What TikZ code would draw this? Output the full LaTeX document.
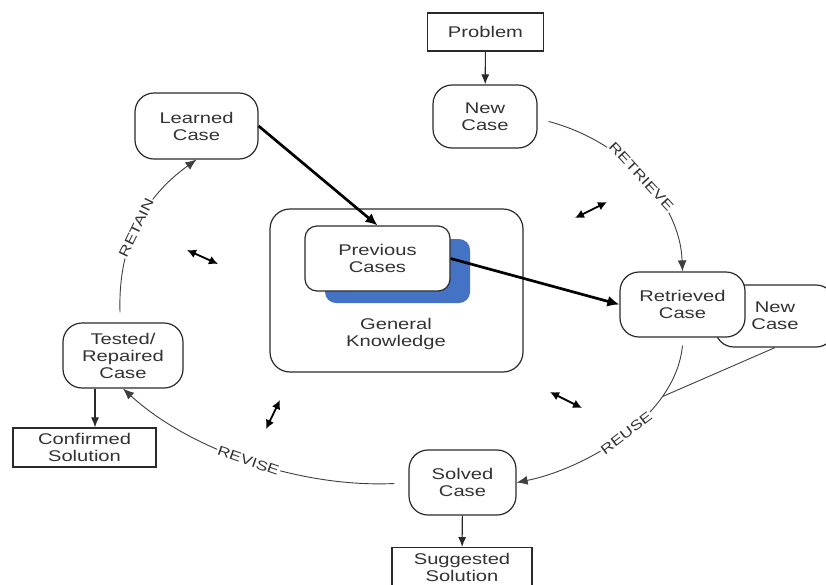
\documentclass[tikz,border=0pt]{standalone}
\usepackage{fontspec}
\setmainfont{Liberation Sans}[FakeStretch=1.3]
\usetikzlibrary{arrows.meta}

\definecolor{ink}{HTML}{333333}
\definecolor{edge}{HTML}{2A2A2A}
\definecolor{shade}{HTML}{4472C4}

\tikzset{
  box/.style={draw=edge, line width=1.2pt, fill=white, inner sep=0pt,
    align=center, text=ink, font=\fontsize{15.5}{17}\selectfont},
  rbox/.style={box, rounded corners=19pt},
  flow/.style={draw=edge, line width=1.1pt, -{Latex[length=10pt,width=8pt]}},
  phase/.style={draw=edge!90, line width=0.9pt, -{Latex[length=11pt,width=9pt]}},
  lbl/.style={sloped, fill=white, inner sep=1pt, text=ink,
    font=\fontsize{13.5}{13.5}\selectfont},
  strong/.style={draw=black, line width=2.7pt, -{Latex[length=12pt,width=11pt]}},
  swap/.style={draw=black, line width=1.8pt,
    {Latex[length=9pt,width=9pt]}-{Latex[length=9pt,width=9pt]}}
}

\begin{document}
\begin{tikzpicture}[x=1pt, y=-1pt]
\useasboundingbox (0,0) rectangle (826,584);
\clip (0,0) rectangle (826,584);
\fill[white] (0,0) rectangle (826,584);

% central knowledge store
\node[rbox, rounded corners=20pt, minimum width=253pt, minimum height=163pt] (gk) at (396.5,290.5) {};
\node[draw=none, fill=shade, rounded corners=11pt, minimum width=145pt, minimum height=64pt, inner sep=0pt] (shadow) at (397.5,271) {};
\node[rbox, rounded corners=12pt, minimum width=145pt, minimum height=65pt] (prev) at (377.5,258.5) {Previous\\Cases};
\node[text=ink, align=center, font=\fontsize{15.5}{17}\selectfont] (gktext) at (396,334) {General\\Knowledge};

% cycle states
\node[box, minimum width=116pt, minimum height=38pt] (problem) at (485.5,32) {Problem};
\node[rbox, minimum width=104pt, minimum height=63pt] (newcase) at (485,116.5) {New\\Case};
\node[rbox, minimum width=120pt, minimum height=62pt] (newcase2) at (775,316) {New\\Case};
\node[rbox, minimum width=125pt, minimum height=65pt] (retrieved) at (682.5,304.5) {Retrieved\\Case};
\node[rbox, minimum width=107pt, minimum height=65pt] (solved) at (462.5,482.5) {Solved\\Case};
\node[box, minimum width=140pt, minimum height=40pt, anchor=north] (suggested) at (462,547) {Suggested\\Solution};
\node[rbox, minimum width=120pt, minimum height=65pt] (tested) at (123,355.5) {Tested/\\Repaired\\Case};
\node[box, minimum width=143pt, minimum height=39pt] (confirmed) at (84.5,447.5) {Confirmed\\Solution};
\node[rbox, minimum width=123pt, minimum height=66pt] (learned) at (196.5,126) {Learned\\Case};

% straight flows
\draw[flow] (problem) -- (newcase);
\draw[flow] ([xshift=-28pt]tested.south) -- ([xshift=-28pt]tested.south |- confirmed.north);
\draw[flow] (solved) -- (suggested);

% the four phases
\draw[phase] ([shift={(11,5)}]newcase.east) .. controls (620,140) and (680,200) .. (retrieved.north)
  node[lbl, pos=0.5] {RETRIEVE};
\draw[phase] ([shift={(0,8)}]retrieved.south) .. controls (675,420) and (580,470) .. (solved.east)
  coordinate[pos=0.25] (merge)
  node[lbl, pos=0.47] {REUSE};
\draw[edge!90, line width=0.9pt] (merge) -- (newcase2.south);
\draw[phase] ([shift={(-14,1)}]solved.west) .. controls (300,488) and (190,450) .. (tested.south)
  node[lbl, pos=0.5] {REVISE};
\draw[phase] ([shift={(-3,-10)}]tested.north) .. controls (118,250) and (140,200) .. (learned.south)
  node[lbl, pos=0.5] {RETAIN};

% case base links
\draw[strong] (learned.east) -- (prev.north);
\draw[strong] (prev.east) -- (retrieved.west);

% exchanges with general knowledge
\coordinate (k1a) at (575,218); \coordinate (k1b) at (607,202);
\coordinate (k2a) at (187,250); \coordinate (k2b) at (218,264);
\coordinate (k3a) at (266,429); \coordinate (k3b) at (280,400);
\coordinate (k4a) at (550,392); \coordinate (k4b) at (582,408);
\draw[swap] (k1a) -- (k1b);
\draw[swap] (k2a) -- (k2b);
\draw[swap] (k3a) -- (k3b);
\draw[swap] (k4a) -- (k4b);
\end{tikzpicture}
\end{document}
